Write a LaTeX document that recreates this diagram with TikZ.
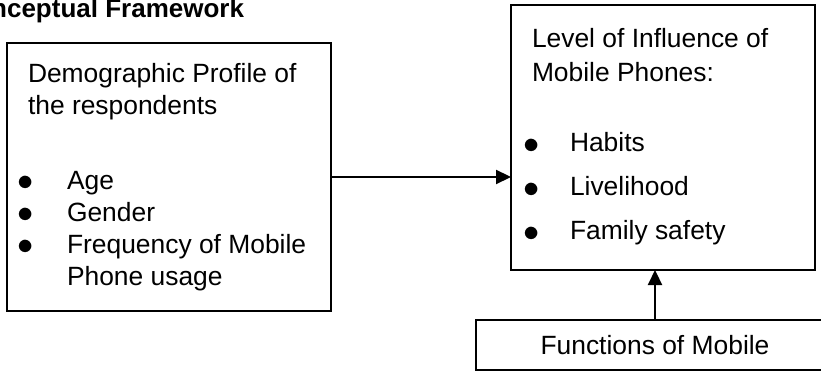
\documentclass[tikz,border=0pt]{standalone}
\usepackage{fontspec}
\setmainfont{Liberation Sans}
\usetikzlibrary{arrows.meta}

\newcommand{\dotitem}[3]{\hspace*{#1}\makebox[#2][l]{\raisebox{-1.5pt}{\scalebox{1.3}{$\bullet$}}}#3}

\begin{document}
\begin{tikzpicture}[
x=1pt, y=-1pt,
frame/.style={rectangle, draw, line width=1.6pt, inner sep=0pt, outer sep=0pt},
link/.style={-{Triangle[length=15pt, width=14pt]}, line width=2.2pt},
every node/.style={font=\fontsize{26.4}{32}\selectfont}
]
\useasboundingbox (0,0) rectangle (821,371);

\node[anchor=base west, font=\fontsize{26}{32}\selectfont\bfseries] (title) at (-47,18) {Conceptual Framework};

\node[frame] (profile) at (169,177) {\parbox[c][268pt][t]{324pt}{\raggedright
\hspace*{21pt}\rule{0pt}{40pt}Demographic Profile of\\[-0.5pt]
\hspace*{21pt}the respondents\\[43pt]
\dotitem{10pt}{50pt}{Age}\\
\dotitem{10pt}{50pt}{Gender}\\
\dotitem{10pt}{50pt}{Frequency of Mobile}\\
\hspace*{60pt}Phone usage}};

\node[frame] (influence) at (663,137.5) {\parbox[c][265pt][t]{304pt}{\raggedright
\hspace*{21pt}\rule{0pt}{43pt}Level of Influence of\\[2pt]
\hspace*{21pt}Mobile Phones:\\[38pt]
\dotitem{12pt}{47pt}{Habits}\\[12pt]
\dotitem{12pt}{47pt}{Livelihood}\\[12pt]
\dotitem{12pt}{47pt}{Family safety}}};

\node[frame, minimum width=358pt, minimum height=50pt] (functions) at (655,345) {Functions of Mobile};

\draw[link] (profile.east) -- (profile.east -| influence.west);
\draw[link] (functions.north) -- (functions.north |- influence.south);
\end{tikzpicture}
\end{document}
